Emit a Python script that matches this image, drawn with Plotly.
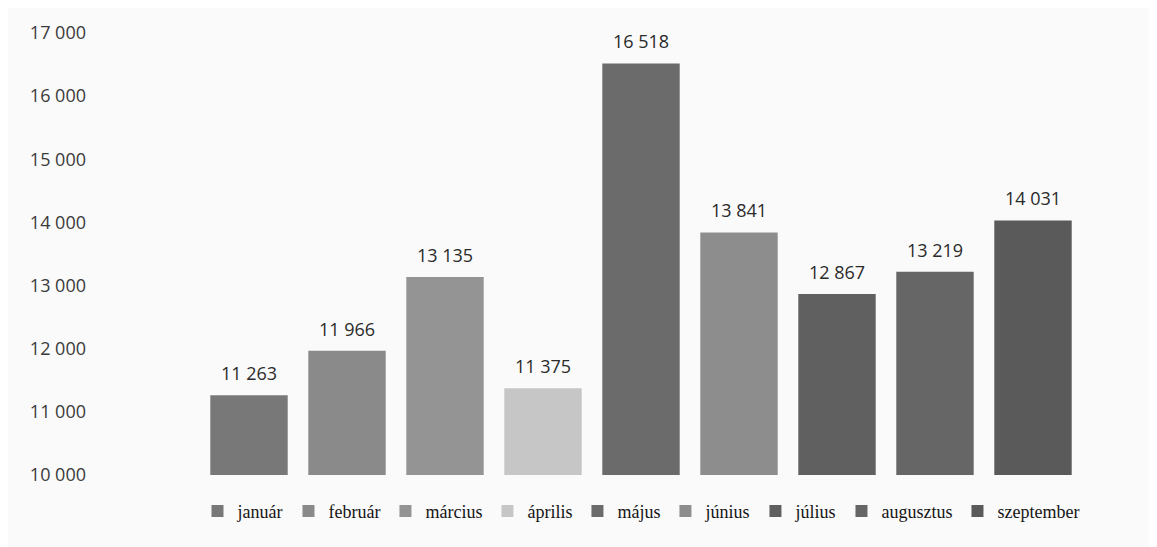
import plotly.graph_objects as go

months = ["január", "február", "március", "április", "május",
          "június", "július", "augusztus", "szeptember"]
values = [11263, 11966, 13135, 11375, 16518, 13841, 12867, 13219, 14031]
colors = ["#787878", "#8a8a8a", "#949494", "#c6c6c6", "#6b6b6b",
          "#8d8d8d", "#606060", "#666666", "#5a5a5a"]
y_ticks = [10000, 11000, 12000, 13000, 14000, 15000, 16000, 17000]

fig = go.Figure()

for m, v, c in zip(months, values, colors):
    fig.add_trace(go.Bar(
        x=[m], y=[v], name=m,
        marker=dict(color=c, line=dict(width=0)),
    ))
    # value label sits a bit above the bar, like the original
    fig.add_annotation(
        x=m, y=v, text=f"{v:,}".replace(",", " "),
        showarrow=False, yanchor="bottom", yshift=8,
        font=dict(family="Open Sans", size=18, color="#2a2a2a"),
    )

fig.update_layout(
    width=1157, height=547,
    barmode="overlay", bargap=0.21,
    separators=", ",
    paper_bgcolor="#fafafa", plot_bgcolor="#fafafa",
    margin=dict(l=192, r=83, t=14, b=80),
    font=dict(family="Open Sans", color="#333333"),
    xaxis=dict(showticklabels=False, showgrid=False, zeroline=False, showline=False),
    yaxis=dict(range=[10000, 17000], tickvals=y_ticks, tickformat=",d",
               showgrid=False, zeroline=False, showline=False,
               ticklabelstandoff=113, tickfont=dict(size=18, color="#3a3a3a")),
    legend=dict(orientation="h", x=0.5, xanchor="center", y=-0.082, yanchor="middle",
                font=dict(family="Liberation Serif", size=18, color="#151515"),
                itemwidth=30, traceorder="normal"),
)

fig.write_html("out.html")
